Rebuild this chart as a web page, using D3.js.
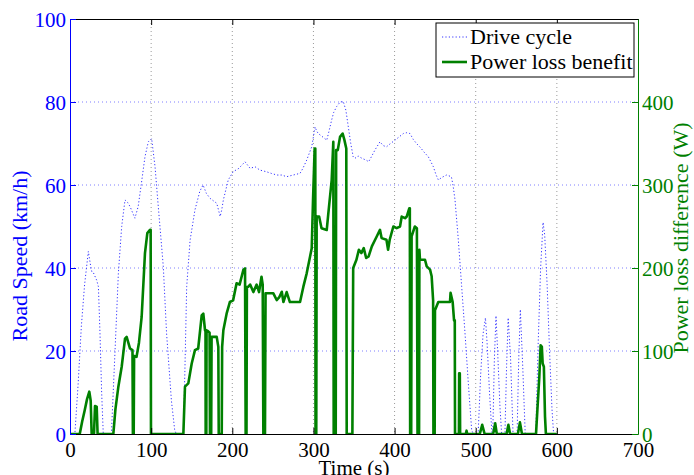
<!DOCTYPE html>
<html lang="en">
<head>
<meta charset="UTF-8" />
<title>drive cycle</title>
<script src="https://cdn.jsdelivr.net/npm/d3@7"></script>
<style>
  body { margin: 0; background: #fff; }
</style>
</head>
<body>
<svg id="svg"></svg>
<script>
// drive cycle: time (s) and road speed (km/h)
const cycleTime = [0, 6, 10, 14, 18, 22.6, 25, 27, 29, 33, 35, 37, 39, 41,
  51, 55.5, 59.6, 63.7, 67.8, 71, 74, 80, 84, 88, 92.4, 96.5, 100.6, 104.8, 108.8, 115, 119, 125, 129, 131,
  139.7, 141.7, 143.8, 148, 154, 160, 164, 168, 172.5, 180.8, 183, 185, 187, 189, 195, 201, 208, 215.7, 222, 228,
  234, 242, 248, 255, 261, 267, 275, 283.5, 287, 291.7, 297.9, 302, 304, 306, 310, 316.4, 319, 322.5, 325, 328.6,
  333, 336.8, 340, 343, 346, 349, 351, 355, 360, 365, 368, 372, 376, 382, 386, 390, 395, 400.5, 405, 410.8, 415,
  419, 423, 427, 432, 436, 441.6, 445, 447.8, 451, 454, 458, 464, 470, 472, 474.5, 478.6, 482.7, 486.8, 490.9, 495, 497,
  503, 506, 509, 512, 514, 517, 520, 521, 523, 525, 527, 530, 532,
  536, 538, 540, 543, 546, 551, 553, 555, 558, 561,
  574, 577, 580, 583, 585, 588, 591, 594, 596, 600];
const cycleSpeed = [0, 0, 12, 26, 36, 44, 41, 39, 38.8, 37, 35.5, 24, 10, 0,
  0, 20, 38.7, 50, 56.4, 55.8, 54.8, 52, 54.8, 60.4, 66.8, 70.4, 71.2, 64.4, 54.8, 40.3, 24.3, 8, 1, 0,
  0, 16.2, 35.5, 46.7, 54, 58.5, 60, 58, 56.8, 55.6, 54, 52.4, 54, 56.4, 61.2, 63.2, 64, 65.6, 64, 64.4,
  63.6, 63.2, 62.8, 62.4, 62.4, 62, 62.4, 62.8, 64, 66, 69.2, 74, 73, 72.4, 71.8, 70.8, 72.8, 75.7, 77.5, 78.9,
  80, 80.1, 78, 74, 70, 66.8, 66.4, 67, 66.4, 66, 65.6, 67, 68.5, 70.4, 69.5, 69.2, 70, 70.8, 71.5, 72.4, 72.6,
  72.4, 71, 70, 69, 68, 66.8, 65.5, 64.4, 62.5, 61.2, 61.8, 62.4, 62, 60, 56.4, 46.7, 35.5, 24.3, 12.2, 1, 0,
  0, 14, 24, 28, 22, 10, 0, 0, 18, 28.5, 20, 6, 0,
  0, 16, 28, 18, 0, 0, 18, 30, 16, 0,
  0, 22, 40, 51, 48, 36, 20, 6, 0, 0];

// power loss benefit: time (s) and power (W)
const lossTime = [0, 12, 15, 18, 21, 23.8, 25.5, 26.7, 29.6, 30.8, 32.9, 34,
  53.4, 56, 59.6, 63.7, 67.8, 69.8, 74, 77, 77.5, 78.5, 79, 82, 85, 88.3, 92.4, 95.3, 98.6, 99.4, 99.8,
  139.7, 141.7, 145.8, 150, 154, 158, 162.3, 164.3, 166.4, 167, 167.2, 168, 168.3, 170, 172, 172.5, 174, 174.5,
  180.8, 182.8, 183.3, 187, 187.5, 189, 193, 197, 201, 205.3, 209, 213.6, 215.7, 216.5, 217.5, 218, 219.8, 222,
  226, 230, 233, 236, 237.5, 238.3, 240.3, 241, 250.6, 254.7, 258, 261, 263, 267, 271, 283.5, 287.6, 291.7,
  295.8, 297.9, 299.5, 301.5, 302.3, 302.6, 303.5, 304, 307, 310, 316.4, 318.4, 322.5, 324.5, 325, 327.5, 328,
  330, 332.8, 336, 338, 340.5, 341, 348, 349, 353, 356, 359, 362, 365, 368, 372, 378, 382, 384, 390, 392, 394,
  398.5, 402.6, 406.7, 408.8, 412.9, 415, 418.2, 418.8, 419.2, 420.5, 421, 425, 427.5, 428.3, 430.2, 430.6,
  431.3, 437.5, 439.6, 443.7, 445.7, 447.5, 447.9, 449.4, 449.8, 453.9, 468.3, 469, 471.6, 473.3, 474.2, 474.5,
  479.3, 479.6, 480.4, 480.8, 487.8, 488.7, 489.6, 505, 508, 511, 521.5, 524, 526, 538, 540.3, 542.3,
  552, 554.5, 557, 574.3, 576, 578.4, 580, 581.5, 582.5, 584, 585.4, 586.5, 600];
const lossPower = [0, 0, 15, 28, 42, 51, 40, 0, 0, 33.7, 33, 0,
  0, 30, 57, 81, 115, 117, 103, 101, 0, 0, 94, 93, 110, 141, 218, 242, 246, 246, 0,
  0, 57, 61, 85, 101, 103, 143, 145, 125, 125, 0, 0, 125, 124, 122, 0, 0, 117,
  117, 105, 0, 0, 105, 125, 145, 159, 161, 181.6, 180, 197.6, 199.6, 0, 0, 177, 177.5, 180,
  171, 180, 171, 189.5, 180, 0, 0, 169.5, 169.5, 161.4, 165, 171.4, 159, 171, 159, 159, 177.5, 193.6,
  213.6, 223.7, 282, 344, 344, 0, 0, 262, 262, 248, 245.8, 266, 306, 352, 0, 0, 342,
  342, 358, 362, 355, 344, 0, 0, 200, 210, 222, 218, 224, 212, 214, 226, 238, 246, 236, 234, 222, 234,
  250, 248, 250, 262, 260, 262, 272, 272, 0, 0, 238, 250, 248, 0, 0, 222,
  210, 210, 202, 198, 190, 161, 0, 0, 149, 159, 159, 170, 159, 137, 137, 0,
  0, 73, 73, 0, 0, 4, 0, 0, 11, 0, 0, 13, 0, 0, 11, 0,
  0, 14, 0, 0, 29, 69, 107, 105, 85, 81, 21, 0, 0];

const timeTicks = [0, 100, 200, 300, 400, 500, 600, 700];
const speedTicks = [0, 20, 40, 60, 80, 100];
const powerTicks = [0, 100, 200, 300, 400];
const legendLabels = ["Drive cycle", "Power loss benefit"];

const width = 694;
const height = 475;
const plotLeft = 70, plotRight = 638, plotTop = 19, plotBottom = 434;
const fontSize = 21;
const labelSize = 22;
const serif = "'Liberation Serif', 'Times New Roman', serif";

const svg = d3.select("#svg")
  .attr("width", width).attr("height", height)
  .attr("font-family", serif);

const x = d3.scaleLinear().domain([0, 700]).range([plotLeft, plotRight]);
const ySpeed = d3.scaleLinear().domain([0, 100]).range([plotBottom, plotTop]);
const yPower = d3.scaleLinear().domain([0, 500]).range([plotBottom, plotTop]);

svg.append("rect").attr("width", width).attr("height", height).attr("fill", "#fff");

// grid
svg.append("g")
  .selectAll("line")
  .data(timeTicks.slice(1, -1))
  .join("line")
  .attr("x1", (d) => x(d)).attr("x2", (d) => x(d))
  .attr("y1", plotTop).attr("y2", plotBottom)
  .attr("stroke", "#9a9a9a")
  .attr("stroke-dasharray", "1,3");

svg.append("g")
  .selectAll("line")
  .data(speedTicks.slice(1, -1))
  .join("line")
  .attr("x1", plotLeft).attr("x2", plotRight)
  .attr("y1", (d) => ySpeed(d)).attr("y2", (d) => ySpeed(d))
  .attr("stroke", "#7f7fff")
  .attr("stroke-dasharray", "1,3");

svg.append("clipPath").attr("id", "clip")
  .append("rect")
  .attr("x", plotLeft).attr("y", plotTop)
  .attr("width", plotRight - plotLeft).attr("height", plotBottom - plotTop);

// drive cycle
svg.append("path")
  .datum(d3.zip(cycleTime, cycleSpeed))
  .attr("clip-path", "url(#clip)")
  .attr("fill", "none")
  .attr("stroke", "#3535ff")
  .attr("stroke-width", 1)
  .attr("stroke-dasharray", "1.2,2.2")
  .attr("d", d3.line().x((d) => x(d[0])).y((d) => ySpeed(d[1])));

// power loss benefit
svg.append("path")
  .datum(d3.zip(lossTime, lossPower))
  .attr("clip-path", "url(#clip)")
  .attr("fill", "none")
  .attr("stroke", "#008000")
  .attr("stroke-width", 2.6)
  .attr("stroke-linejoin", "round")
  .attr("d", d3.line().x((d) => x(d[0])).y((d) => yPower(d[1])));

// axes
function styleAxis(g, color) {
  g.attr("font-family", serif).attr("font-size", fontSize);
  g.selectAll("path, line").attr("stroke", color);
  g.selectAll("text").attr("fill", color).attr("font-family", serif);
}

svg.append("g")
  .attr("transform", `translate(0,${plotBottom})`)
  .call(d3.axisBottom(x).tickValues(timeTicks).tickSizeInner(-6).tickSizeOuter(0).tickPadding(8))
  .call(styleAxis, "#000");

svg.append("g")
  .attr("transform", `translate(0,${plotTop})`)
  .call(d3.axisTop(x).tickValues(timeTicks).tickFormat("").tickSizeInner(-6).tickSizeOuter(0))
  .call(styleAxis, "#000");

svg.append("g")
  .attr("transform", `translate(${plotLeft},0)`)
  .call(d3.axisLeft(ySpeed).tickValues(speedTicks).tickSizeInner(-6).tickSizeOuter(0).tickPadding(4))
  .call(styleAxis, "#0000ff")
  .call((g) => g.selectAll("text").attr("dy", "0.34em"));

svg.append("g")
  .attr("transform", `translate(${plotRight},0)`)
  .call(d3.axisRight(yPower).tickValues(powerTicks).tickSizeInner(-6).tickSizeOuter(0).tickPadding(4))
  .call(styleAxis, "#008000")
  .call((g) => g.selectAll("text").attr("dy", "0.34em"));

// axis titles
svg.append("text")
  .attr("x", (plotLeft + plotRight) / 2).attr("y", 475)
  .attr("text-anchor", "middle")
  .attr("font-size", fontSize)
  .text("Time (s)");

svg.append("text")
  .attr("transform", "translate(27,256) rotate(-90)")
  .attr("text-anchor", "middle")
  .attr("font-size", labelSize)
  .attr("fill", "#0000ff")
  .text("Road Speed (km/h)");

svg.append("text")
  .attr("transform", "translate(688,238) rotate(-90)")
  .attr("text-anchor", "middle")
  .attr("font-size", labelSize)
  .attr("fill", "#008000")
  .text("Power loss difference (W)");

// legend
const legend = svg.append("g").attr("transform", "translate(436,23)");
legend.append("rect")
  .attr("width", 198).attr("height", 54)
  .attr("fill", "#fff").attr("stroke", "#000");

const items = legend.selectAll(".item")
  .data(legendLabels)
  .join("g")
  .attr("class", "item")
  .attr("transform", (d, i) => `translate(0,${14 + i * 25})`);

items.append("line")
  .attr("x1", 6).attr("x2", 31)
  .attr("stroke", (d, i) => (i === 0 ? "#3535ff" : "#008000"))
  .attr("stroke-width", (d, i) => (i === 0 ? 1 : 2.6))
  .attr("stroke-dasharray", (d, i) => (i === 0 ? "1.2,2.2" : null));

items.append("text")
  .attr("x", 34).attr("dy", "0.34em")
  .attr("font-size", labelSize)
  .text((d) => d);
</script>
</body>
</html>
